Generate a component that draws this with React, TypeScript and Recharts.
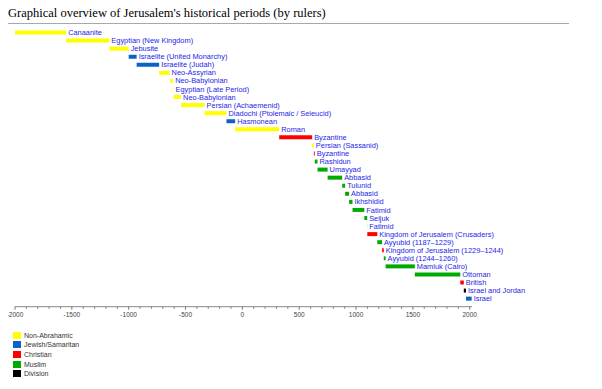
import React from "react";
import { BarChart, Bar, XAxis, YAxis, Cell, LabelList } from "recharts";

const periodLabels = [
  "Canaanite", "Egyptian (New Kingdom)", "Jebusite", "Israelite (United Monarchy)", "Israelite (Judah)",
  "Neo-Assyrian", "Neo-Babylonian", "Egyptian (Late Period)", "Neo-Babylonian", "Persian (Achaemenid)",
  "Diadochi (Ptolemaic / Seleucid)", "Hasmonean", "Roman", "Byzantine", "Persian (Sassanid)",
  "Byzantine", "Rashidun", "Umayyad", "Abbasid", "Tulunid", "Abbasid", "Ikhshidid", "Fatimid",
  "Seljuk", "Fatimid", "Kingdom of Jerusalem (Crusaders)", "Ayyubid (1187–1229)",
  "Kingdom of Jerusalem (1229–1244)", "Ayyubid (1244–1260)", "Mamluk (Cairo)", "Ottoman",
  "British", "Israel and Jordan", "Israel",
];
const periodStarts = [
  -2000, -1550, -1170, -1000, -930, -732, -635, -609, -605, -539, -332, -140, -63, 324, 614,
  629, 637, 661, 750, 878, 904, 939, 969, 1073, 1098, 1099, 1187, 1229, 1244, 1260, 1517,
  1917, 1948, 1967,
];
const periodEnds = [
  -1550, -1170, -1000, -930, -732, -640, -609, -605, -539, -332, -140, -63, 324, 614, 629,
  637, 661, 750, 878, 904, 939, 969, 1073, 1098, 1099, 1187, 1229, 1244, 1260, 1517, 1917,
  1948, 1967, 2017,
];
// 0 Non-Abrahamic, 1 Jewish/Samaritan, 2 Christian, 3 Muslim, 4 Division
const periodGroups = [
  0, 0, 0, 1, 1, 0, 0, 0, 0, 0, 0, 1, 0, 2, 0, 2, 3, 3, 3, 3, 3, 3, 3, 3, 3, 2, 3, 2, 3, 3, 3,
  2, 4, 1,
];
const groupNames = ["Non-Abrahamic", "Jewish/Samaritan", "Christian", "Muslim", "Division"];
const groupColors = ["#ffff00", "#0a64c8", "#ff0000", "#00aa00", "#000000"];
const axisTicks = [
  -2000, -1900, -1800, -1700, -1600, -1500, -1400, -1300, -1200, -1100, -1000, -900, -800, -700,
  -600, -500, -400, -300, -200, -100, 0, 100, 200, 300, 400, 500, 600, 700, 800, 900, 1000, 1100,
  1200, 1300, 1400, 1500, 1600, 1700, 1800, 1900, 2000,
];
const titleText = "Graphical overview of Jerusalem's historical periods (by rulers)";

const data = periodLabels.map((label, i) => ({
  id: String(i),
  label,
  range: [periodStarts[i], periodEnds[i]],
  group: periodGroups[i],
}));

const SANS = "'Liberation Sans', Arial, sans-serif";

const AxisTick = (props: any) => {
  const { x, y, payload } = props;
  const v = payload.value as number;
  const major = v % 500 === 0;
  return (
    <g>
      <line x1={x} x2={x} y1={y} y2={y + (major ? 3 : 2)} stroke="#777" strokeWidth={1} />
      {major && (
        <text x={x} y={y + 10} textAnchor="middle" fontSize={6.5} fontFamily={SANS} fill="#444">
          {String(v)}
        </text>
      )}
    </g>
  );
};

const BarLabel = (props: any) => {
  const { x, y, width, height, value } = props;
  return (
    <text
      x={Number(x) + Number(width) + 2}
      y={Number(y) + Number(height) / 2}
      dy="0.35em"
      textAnchor="start"
      fontSize={7.4}
      fontFamily={SANS}
      fill="#1e1ee6"
    >
      {value}
    </text>
  );
};

export default function App() {
  return (
    <div style={{ position: "relative", width: 594, height: 381 }}>
      <div
        style={{
          position: "absolute",
          left: 0,
          top: -2,
          fontFamily: "'Liberation Serif', 'Times New Roman', serif",
          fontSize: 12.5,
          lineHeight: "14px",
          color: "#000",
          whiteSpace: "nowrap",
        }}
      >
        {titleText}
      </div>
      <div style={{ position: "absolute", left: 0, top: 15, width: 561, height: 1, background: "#a2a9b1" }} />
      <div style={{ position: "absolute", left: 0, top: 0 }}>
        <BarChart
          width={594}
          height={320}
          data={data}
          layout="vertical"
          margin={{ top: 20.5, right: 130, bottom: 1.3, left: 7 }}
        >
          <XAxis
            type="number"
            dataKey="range"
            domain={[-2000, 2020]}
            ticks={axisTicks}
            interval={0}
            tick={<AxisTick />}
            tickLine={false}
            tickSize={0}
            tickMargin={0}
            height={20}
            axisLine={{ stroke: "#888" }}
          />
          <YAxis
            type="category"
            dataKey="id"
            width={0}
            tick={false}
            tickLine={false}
            axisLine={{ stroke: "#888" }}
            padding={{ top: 0, bottom: 4 }}
          />
          <Bar dataKey="range" barSize={4} isAnimationActive={false}>
            {data.map((d, i) => (
              <Cell key={i} fill={groupColors[d.group]} />
            ))}
            <LabelList dataKey="label" content={<BarLabel />} />
          </Bar>
        </BarChart>
      </div>
      {groupNames.map((name, i) => (
        <div key={name} style={{ position: "absolute", left: 5, top: 323.5 + i * 9.7, height: 7, display: "flex", alignItems: "center" }}>
          <div style={{ width: 8, height: 7, background: groupColors[i] }} />
          <span style={{ marginLeft: 3, fontFamily: SANS, fontSize: 7, color: "#333", lineHeight: "7px", whiteSpace: "nowrap" }}>{name}</span>
        </div>
      ))}
    </div>
  );
}
